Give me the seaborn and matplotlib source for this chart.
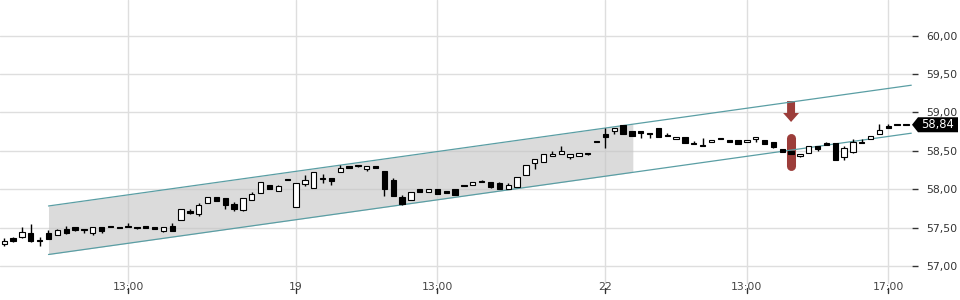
import numpy as np
import pandas as pd
import matplotlib
matplotlib.use("Agg")
import matplotlib.pyplot as plt
from matplotlib.patches import Polygon
from matplotlib.transforms import IdentityTransform
import seaborn as sns

# ---------------- data (15-minute candles) ----------------
opens = [57.29, 57.37, 57.375, 57.43, 57.34, 57.43, 57.40, 57.48, 57.505, 57.47,
         57.435, 57.505, 57.505, 57.51, 57.51, 57.505, 57.517, 57.505, 57.46, 57.52,
         57.595, 57.72, 57.674, 57.817, 57.895, 57.882, 57.81, 57.73, 57.86, 57.955,
         58.055, 57.973, 58.116, 57.773, 58.072, 58.012, 58.13, 58.146, 58.22, 58.307,
         58.316, 58.264, 58.303, 58.238, 58.12, 57.903, 57.856, 58.0, 57.968, 58.003,
         57.978, 58.003, 58.04, 58.051, 58.09, 58.09, 58.081, 58.007, 58.033, 58.18,
         58.338, 58.35, 58.43, 58.455, 58.416, 58.433, 58.459, 58.611, 58.72, 58.755,
         58.837, 58.755, 58.755, 58.737, 58.794, 58.694, 58.65, 58.68, 58.585, 58.563,
         58.611, 58.654, 58.638, 58.641, 58.611, 58.651, 58.641, 58.615, 58.524, 58.498,
         58.429, 58.468, 58.559, 58.602, 58.606, 58.416, 58.489, 58.619, 58.651, 58.716,
         58.824, 58.846, 58.84]
highs = [57.37, 57.38, 57.51, 57.55, 57.38, 57.465, 57.48, 57.52, 57.51, 57.47,
         57.51, 57.505, 57.505, 57.51, 57.555, 57.505, 57.517, 57.505, 57.505, 57.56,
         57.74, 57.746, 57.825, 57.895, 57.895, 57.882, 57.83, 57.88, 57.96, 58.09,
         58.055, 58.06, 58.116, 58.077, 58.185, 58.22, 58.195, 58.146, 58.316, 58.307,
         58.316, 58.303, 58.303, 58.238, 58.14, 57.925, 57.964, 58.0, 58.0, 58.003,
         57.978, 58.003, 58.04, 58.09, 58.116, 58.09, 58.09, 58.075, 58.16, 58.316,
         58.39, 58.455, 58.494, 58.563, 58.455, 58.472, 58.475, 58.611, 58.794, 58.794,
         58.837, 58.755, 58.755, 58.737, 58.794, 58.728, 58.68, 58.68, 58.628, 58.664,
         58.638, 58.654, 58.638, 58.641, 58.641, 58.677, 58.641, 58.615, 58.524, 58.498,
         58.459, 58.559, 58.559, 58.615, 58.606, 58.56, 58.65, 58.65, 58.69, 58.854,
         58.854, 58.846, 58.84]
lows = [57.26, 57.31, 57.37, 57.31, 57.265, 57.35, 57.40, 57.42, 57.45, 57.435,
        57.41, 57.435, 57.505, 57.495, 57.505, 57.48, 57.50, 57.48, 57.447, 57.46,
        57.595, 57.68, 57.65, 57.817, 57.843, 57.746, 57.72, 57.72, 57.86, 57.955,
        58.0, 57.973, 58.116, 57.773, 58.046, 58.012, 58.077, 58.06, 58.22, 58.273,
        58.29, 58.238, 58.277, 57.91, 57.916, 57.80, 57.856, 57.968, 57.968, 57.934,
        57.945, 57.93, 58.04, 58.051, 58.09, 58.015, 58.007, 58.007, 58.033, 58.18,
        58.264, 58.35, 58.43, 58.455, 58.40, 58.433, 58.45, 58.611, 58.541, 58.725,
        58.723, 58.69, 58.664, 58.664, 58.677, 58.694, 58.65, 58.606, 58.585, 58.563,
        58.611, 58.654, 58.611, 58.593, 58.611, 58.62, 58.593, 58.54, 58.489, 58.463,
        58.42, 58.468, 58.50, 58.572, 58.385, 58.38, 58.476, 58.598, 58.651, 58.716,
        58.798, 58.833, 58.84]
closes = [57.33, 57.33, 57.44, 57.33, 57.32, 57.35, 57.47, 57.43, 57.47, 57.465,
          57.505, 57.46, 57.505, 57.50, 57.51, 57.495, 57.50, 57.48, 57.505, 57.46,
          57.74, 57.695, 57.80, 57.895, 57.843, 57.80, 57.74, 57.88, 57.938, 58.09,
          58.0, 58.042, 58.116, 58.077, 58.116, 58.22, 58.133, 58.107, 58.273, 58.273,
          58.30, 58.303, 58.277, 58.0, 57.916, 57.804, 57.964, 57.968, 58.0, 57.934,
          57.955, 57.93, 58.04, 58.09, 58.09, 58.033, 58.007, 58.059, 58.16, 58.316,
          58.39, 58.455, 58.459, 58.494, 58.455, 58.472, 58.459, 58.611, 58.684, 58.794,
          58.723, 58.69, 58.729, 58.716, 58.677, 58.694, 58.68, 58.606, 58.585, 58.563,
          58.638, 58.654, 58.611, 58.593, 58.641, 58.677, 58.593, 58.554, 58.489, 58.463,
          58.459, 58.559, 58.528, 58.572, 58.385, 58.533, 58.619, 58.598, 58.69, 58.768,
          58.798, 58.833, 58.84]

tick_pos = [14, 33, 49, 68, 84, 100]
tick_labels = ["13:00", "19", "13:00", "22", "13:00", "17:00"]
y_ticks = [57.0, 57.5, 58.0, 58.5, 59.0, 59.5, 60.0]

channel_x = [5.0, 102.6]
channel_upper = [57.782, 59.355]
channel_lower = [57.15, 58.73]
shade_end = 71.1

last_price = 58.84
signal_index = 89
signal_arrow = [59.149, 58.993, 58.876]   # shaft top, head base, tip
signal_bar = [58.67, 58.30]

# ---------------- styling ----------------
sns.set_style("white")
plt.rcParams['font.family'] = ['DejaVu Sans']

fig = plt.figure(figsize=(9.6, 3.0), dpi=100)
ax = fig.add_axes([0.0, 16 / 300, 912 / 960, 284 / 300])
ymin = 60 - (284 - 35.7) / 76.77
ymax = 60 + 35.7 / 76.77
ax.set_xlim(-0.486, 102.68)
ax.set_ylim(ymin, ymax)

for s in ax.spines.values():
    s.set_visible(False)

ax.set_xticks(tick_pos)
ax.set_xticklabels(tick_labels)
ax.set_yticks(y_ticks)
ax.set_yticklabels([f"{v:.2f}".replace('.', ',') for v in y_ticks])
ax.yaxis.tick_right()
ax.grid(True, color='#dedede', linewidth=1.0)
ax.set_axisbelow(True)
ax.tick_params(axis='y', length=4, width=1, color='#333333', pad=6,
               labelsize=7.8, labelcolor='#333333')
ax.tick_params(axis='x', length=0, pad=-1.5, labelsize=7.8, labelcolor='#444444')

# small x tick marks below the labels
tr = ax.get_xaxis_transform()
for t in tick_pos:
    ax.plot([t, t], [-(288 - 284) / 284, -(293 - 284) / 284], transform=tr,
            color='#333333', linewidth=1.0, clip_on=False)

# channel shading and lines
xs_fill = np.array([channel_x[0], shade_end])
up_fill = np.interp(xs_fill, channel_x, channel_upper)
lo_fill = np.interp(xs_fill, channel_x, channel_lower)
ax.fill_between(xs_fill, lo_fill, up_fill, color='#c4c4c4', alpha=0.6,
                linewidth=0, zorder=1.5)

# signal marker (below lines and candles)
red = '#9c3d3a'
sx = signal_index
arrow = Polygon([[sx - 0.45, signal_arrow[0]], [sx + 0.45, signal_arrow[0]],
                 [sx + 0.45, signal_arrow[1]], [sx + 0.9, signal_arrow[1]],
                 [sx, signal_arrow[2]], [sx - 0.9, signal_arrow[1]],
                 [sx - 0.45, signal_arrow[1]]], closed=True,
                facecolor=red, edgecolor='none', zorder=2)
ax.add_patch(arrow)
ax.plot([sx, sx], signal_bar, color=red, linewidth=6.5,
        solid_capstyle='round', zorder=2)

ch = pd.DataFrame({'x': channel_x * 2,
                   'y': channel_upper + channel_lower,
                   'line': ['upper'] * 2 + ['lower'] * 2})
sns.lineplot(data=ch, x='x', y='y', units='line', estimator=None,
             color='#5a9ea4', linewidth=0.9, ax=ax, zorder=3)
ax.set_xlabel('')
ax.set_ylabel('')

# candles
idx = np.arange(len(opens))
o = np.array(opens); c = np.array(closes)
h = np.array(highs); l = np.array(lows)
ax.vlines(idx, l, h, color='black', linewidth=1.0, zorder=4)
bottom = np.minimum(o, c)
height = np.maximum(np.abs(c - o), 0.012)
up = c > o + 0.005
face = np.where(up, 'white', 'black')
ax.bar(idx, height, bottom=bottom, width=0.6, color=face,
       edgecolor='black', linewidth=0.8, zorder=5)

# last price tag
fig.canvas.draw()
py = ax.transData.transform((0, last_price))[1]
tag = Polygon([[912, py], [918, py + 7.5], [958, py + 7.5],
               [958, py - 7.5], [918, py - 7.5]], closed=True,
              facecolor='black', edgecolor='none', transform=IdentityTransform())
fig.add_artist(tag)
fig.text(938 / 960, py / 300, f"{last_price:.2f}".replace('.', ','), color='white',
         fontsize=8.3, ha='center', va='center')

fig.savefig('out.png', dpi=100, facecolor='white')
